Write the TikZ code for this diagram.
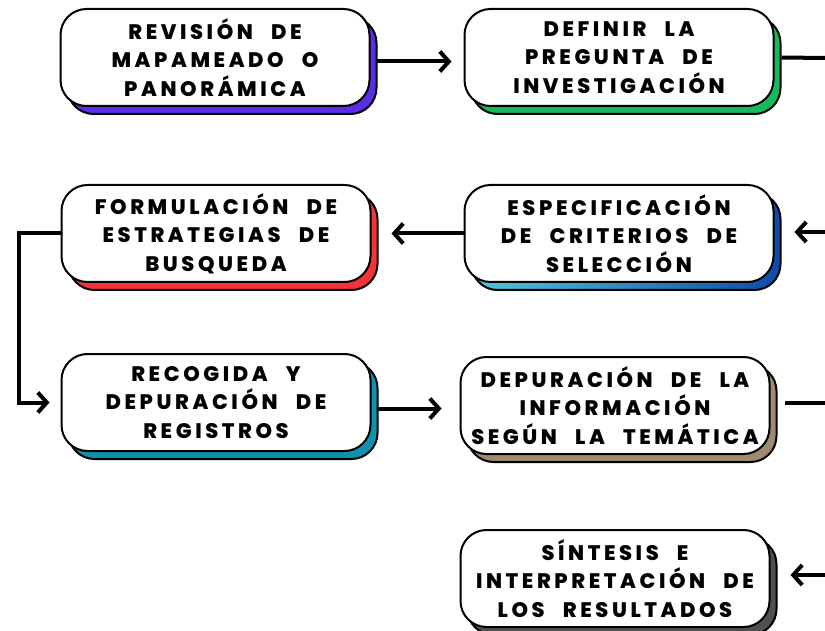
\documentclass[tikz,border=0pt]{standalone}
\usepackage{fontspec}
\setmainfont{Poppins}
\newfontfamily\stepfont{Poppins}[LetterSpace=17, WordSpace=2.4, BoldFont={Poppins ExtraBold}]
\usetikzlibrary{shapes,arrows.meta,positioning,shadows}

\definecolor{revcolor}{RGB}{92,45,230}
\definecolor{defcolor}{RGB}{22,185,92}
\definecolor{espleft}{RGB}{80,200,220}
\definecolor{espright}{RGB}{14,74,168}
\definecolor{formcolor}{RGB}{242,52,58}
\definecolor{reccolor}{RGB}{17,146,170}
\definecolor{depucolor}{RGB}{160,139,112}
\definecolor{sintcolor}{RGB}{80,80,80}

\begin{document}
\begin{tikzpicture}[x=1pt,y=1pt]
    \tikzset{
        stepbox/.style = {rectangle, draw=black, fill=white, line width=2pt, rounded corners=26pt, minimum width=309pt, minimum height=97pt, inner sep=0pt, align=center, font=\stepfont\bfseries\fontsize{21pt}{28.5pt}\selectfont},
        backcolor/.style = {general shadow={shadow xshift=7pt, shadow yshift=-8pt, fill=#1, draw=black, line width=2pt}},
        backshade/.style = {general shadow={shadow xshift=7pt, shadow yshift=-8pt, left color=espleft, right color=espright, draw=black, line width=2pt}},
        line/.style = {draw=black, line width=4pt, line cap=round, -{Straight Barb[length=9pt, width=20pt]}},
        link/.style = {draw=black, line width=4pt}
    }
    \useasboundingbox (0,0) rectangle (825,-631);

    \node[stepbox, backcolor=revcolor](rev) at (215,-57.5){REVISIÓN DE\\MAPAMEADO O\\PANORÁMICA};
    \node[stepbox, backcolor=defcolor](def)[right = 93pt of rev]{DEFINIR LA\\PREGUNTA DE\\INVESTIGACIÓN};
    \node[stepbox, backshade](esp)[below = 77pt of def]{ESPECIFICACIÓN\\DE CRITERIOS DE\\SELECCIÓN};
    \node[stepbox, backcolor=formcolor](form)[left = 92pt of esp]{FORMULACIÓN DE\\ESTRATEGIAS DE\\BUSQUEDA};
    \node[stepbox, backcolor=reccolor](rec)[below = 70pt of form]{RECOGIDA Y\\DEPURACIÓN DE\\REGISTROS};
    \node[stepbox, backcolor=depucolor](depu)[right = 88pt of rec, yshift=-3pt]{DEPURACIÓN DE LA\\INFORMACIÓN\\SEGÚN LA TEMÁTICA};
    \node[stepbox, backcolor=sintcolor](sint)[below = 74pt of depu]{SÍNTESIS E\\INTERPRETACIÓN DE\\LOS RESULTADOS};

    % free ends at the right edge
    \coordinate (defout) at (825,-58);
    \coordinate (espin) at (825,-232);
    \coordinate (depuout) at (825,-403);
    \coordinate (sintin) at (825,-575);
    \coordinate (esptip) at ([xshift=20pt]esp.east);
    \coordinate (depustart) at ([xshift=14pt]depu.east);
    \coordinate (sinttip) at ([xshift=20pt]sint.east);

    \path [line] ([xshift=7pt,yshift=-4pt]rev.east) -- ([xshift=-12pt,yshift=-4pt]def.west);
    \path [link] ([xshift=7pt]def.east) -- (defout);
    \path [line] (espin) -- (espin -| esptip);
    \path [line] (esp.west) -- ([xshift=20pt]form.east);
    \path [line] (form.west) -- ++(-42pt,0) |- ([xshift=-11pt]rec.west);
    \path [line] ([xshift=7pt,yshift=-6pt]rec.east) -- ++(63pt,0);
    \path [link] (depuout) -- (depuout -| depustart);
    \path [line] (sintin) -- (sintin -| sinttip);

\end{tikzpicture}
\end{document}
